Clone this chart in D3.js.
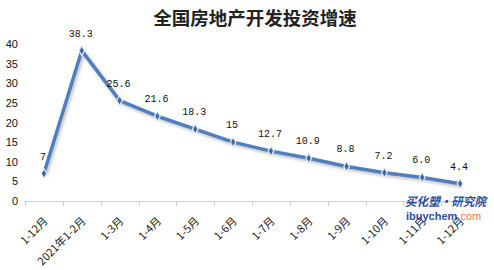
<!DOCTYPE html>
<html>
<head>
<meta charset="utf-8">
<script src="https://cdn.jsdelivr.net/npm/d3@7"></script>
<style>
  body { margin: 0; background: #fff; }
  svg { display: block; }
</style>
</head>
<body>
<div id="chart"></div>
<script>
const Width = 494;
const Height = 270;

// data
const categories = ['1-12月', '2021年1-2月', '1-3月', '1-4月', '1-5月', '1-6月',
  '1-7月', '1-8月', '1-9月', '1-10月', '1-11月', '1-12月'];
const values = [7, 38.3, 25.6, 21.6, 18.3, 15, 12.7, 10.9, 8.8, 7.2, 6.0, 4.4];
const valueLabels = ['7', '38.3', '25.6', '21.6', '18.3', '15', '12.7', '10.9', '8.8', '7.2', '6.0', '4.4'];
const yTicks = [0, 5, 10, 15, 20, 25, 30, 35, 40];

const svg = d3.select('#chart').append('svg')
  .attr('width', Width)
  .attr('height', Height);

// shadow under the line
const defs = svg.append('defs');
const f = defs.append('filter').attr('id', 'shadow')
  .attr('x', '-10%').attr('y', '-10%').attr('width', '130%').attr('height', '130%');
f.append('feDropShadow').attr('dx', 1.5).attr('dy', 2).attr('stdDeviation', 1.5)
  .attr('flood-color', '#000').attr('flood-opacity', 0.25);

// title
svg.append('text')
  .attr('x', 255).attr('y', 25)
  .attr('text-anchor', 'middle')
  .style('font-family', '"Noto Sans CJK SC", sans-serif')
  .style('font-weight', 'bold')
  .style('font-size', '18.5px')
  .attr('fill', '#222')
  .text('全国房地产开发投资增速');

const x = d3.scaleBand().domain(d3.range(categories.length)).range([25, 479]);
const y = d3.scaleLinear().domain([0, 40]).range([201, 44]);
const cx = i => x(i) + x.bandwidth() / 2;

// y axis (labels only)
const yAxis = svg.append('g')
  .attr('transform', 'translate(22,0)')
  .call(d3.axisLeft(y).tickValues(yTicks).tickSize(0).tickPadding(4));
yAxis.select('.domain').remove();
yAxis.selectAll('text')
  .style('font-family', '"Liberation Sans", Arial, sans-serif')
  .style('font-size', '11px')
  .attr('fill', '#111');

// x axis line and tick marks at band edges
const xAxis = svg.append('g');
xAxis.append('line')
  .attr('x1', x.range()[0]).attr('x2', x.range()[1])
  .attr('y1', y(0) + 0.5).attr('y2', y(0) + 0.5)
  .attr('stroke', '#c3d1e2').attr('stroke-width', 1);
const edges = categories.map((c, i) => x(i)).concat([x.range()[1]]);
xAxis.selectAll('line.tick').data(edges).enter().append('line')
  .attr('class', 'tick')
  .attr('x1', d => Math.round(d) + 0.5).attr('x2', d => Math.round(d) + 0.5)
  .attr('y1', y(0)).attr('y2', y(0) + 5)
  .attr('stroke', '#c3d1e2');

xAxis.selectAll('text.cat').data(categories).enter().append('text')
  .attr('class', 'cat')
  .attr('transform', (d, i) => 'translate(' + (cx(i) + 2) + ',' + (y(0) + 18) + ') rotate(-45)')
  .attr('text-anchor', 'end')
  .attr('dy', '0.35em')
  .style('font-family', '"Noto Sans CJK SC", sans-serif')
  .style('font-size', '11px')
  .attr('fill', '#222')
  .text(d => d);

// line
const line = d3.line().x((d, i) => cx(i)).y(d => y(d));
svg.append('path')
  .datum(values)
  .attr('d', line)
  .attr('fill', 'none')
  .attr('stroke', '#4f7fbd')
  .attr('stroke-width', 3.5)
  .attr('stroke-linejoin', 'round')
  .attr('filter', 'url(#shadow)');

// markers
svg.selectAll('path.marker').data(values).enter().append('path')
  .attr('class', 'marker')
  .attr('transform', (d, i) => 'translate(' + cx(i) + ',' + y(d) + ')')
  .attr('d', d3.symbol(d3.symbolDiamond, 28))
  .attr('fill', '#3c68a5')
  .attr('stroke', '#e6eef8')
  .attr('stroke-width', 1.2);

// value labels
svg.selectAll('text.val').data(values).enter().append('text')
  .attr('class', 'val')
  .attr('x', (d, i) => cx(i) - 1)
  .attr('y', d => y(d) - 14)
  .attr('text-anchor', 'middle')
  .style('font-family', '"Liberation Mono", monospace')
  .style('font-size', '10px')
  .attr('fill', '#111')
  .text((d, i) => valueLabels[i]);

// watermark
svg.append('text')
  .attr('x', 405).attr('y', 206)
  .attr('textLength', 81)
  .attr('lengthAdjust', 'spacingAndGlyphs')
  .style('font-family', '"Noto Sans CJK SC", sans-serif')
  .style('font-weight', 'bold')
  .style('font-style', 'italic')
  .style('font-size', '12px')
  .attr('fill', '#2c4f9c')
  .text('买化塑·研究院');
const wm = svg.append('text')
  .attr('x', 406).attr('y', 220)
  .style('font-family', '"Liberation Sans", Arial, sans-serif')
  .style('font-weight', 'bold')
  .style('font-size', '11px');
wm.append('tspan').attr('fill', '#2c4f9c').text('ibuychem');
wm.append('tspan').attr('fill', '#ef6f4f').style('font-weight', 'normal').text('.com');
</script>
</body>
</html>
